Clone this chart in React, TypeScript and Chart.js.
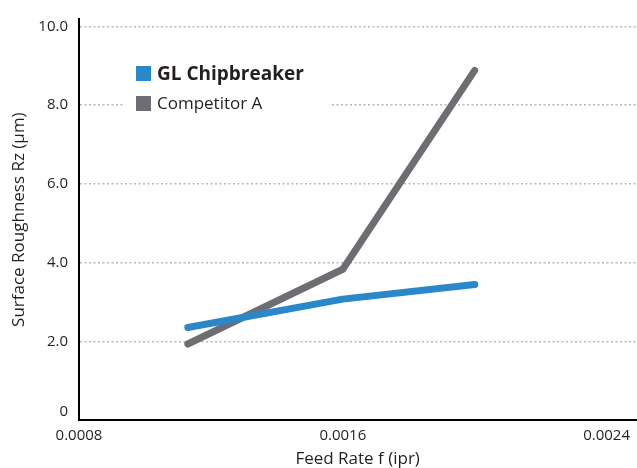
import React, { useEffect, useRef } from "react";
import { Chart, registerables } from "chart.js";

Chart.register(...registerables);

const feedRates = [0.00113, 0.0016, 0.002];
const glChipbreaker = [2.35, 3.07, 3.44];
const competitorA = [1.93, 3.83, 8.88];
const xTicks = [0.0008, 0.0016, 0.0024];
const yTicks = [0, 2, 4, 6, 8, 10];
const seriesNames = ["GL Chipbreaker", "Competitor A"];
const seriesColors = ["#2a87c9", "#6d6e71"];

const FONT = "'Open Sans', 'Noto Sans', sans-serif";

const legendPlugin = {
  id: "insideLegend",
  beforeDatasetsDraw(chart: any) {
    const ctx = chart.ctx;
    ctx.save();
    ctx.fillStyle = "#ffffff";
    ctx.fillRect(124, 55, 208, 66);
    ctx.fillStyle = seriesColors[0];
    ctx.fillRect(136, 66, 15, 15);
    ctx.fillStyle = seriesColors[1];
    ctx.fillRect(136, 96, 15, 15);
    ctx.fillStyle = "#231f20";
    ctx.textBaseline = "alphabetic";
    ctx.textAlign = "left";
    ctx.font = `bold 19px ${FONT}`;
    ctx.fillText(seriesNames[0], 157, 80);
    ctx.font = `17px ${FONT}`;
    ctx.fillText(seriesNames[1], 157, 109);
    ctx.restore();
  },
};

export default function App() {
  const ref = useRef<HTMLCanvasElement>(null);
  useEffect(() => {
    if (!ref.current) return;
    const chart = new Chart(ref.current, {
      type: "line",
      data: {
        datasets: [
          {
            label: seriesNames[0],
            data: feedRates.map((x, i) => ({ x, y: glChipbreaker[i] })),
            borderColor: seriesColors[0],
            backgroundColor: seriesColors[0],
            borderWidth: 7,
            borderCapStyle: "round",
            borderJoinStyle: "round",
            pointRadius: 0,
            tension: 0,
          },
          {
            label: seriesNames[1],
            data: feedRates.map((x, i) => ({ x, y: competitorA[i] })),
            borderColor: seriesColors[1],
            backgroundColor: seriesColors[1],
            borderWidth: 7,
            borderCapStyle: "round",
            borderJoinStyle: "round",
            pointRadius: 0,
            tension: 0,
          },
        ],
      },
      options: {
        animation: false,
        responsive: false,
        devicePixelRatio: 1,
        layout: { padding: { top: 15, right: 0, bottom: 0, left: 0 } },
        plugins: { legend: { display: false }, tooltip: { enabled: false } },
        scales: {
          x: {
            type: "linear",
            min: 0.0008,
            max: 0.00249,
            afterBuildTicks: (scale: any) => {
              scale.ticks = xTicks.map((v) => ({ value: v }));
            },
            afterFit: (scale: any) => {
              scale.height = 48;
            },
            grid: { display: false, drawTicks: false },
            border: { display: true, color: "#000000", width: 2 },
            ticks: {
              padding: 7,
              color: "#231f20",
              font: { family: FONT, size: 15 },
              maxRotation: 0,
              callback: (v: any) => Number(v).toFixed(4),
            },
            title: {
              display: true,
              text: "Feed Rate f (ipr)",
              color: "#231f20",
              font: { family: FONT, size: 17, lineHeight: 1 },
              padding: 0,
            },
          },
          y: {
            type: "linear",
            min: 0,
            max: 10.18,
            afterBuildTicks: (scale: any) => {
              scale.ticks = yTicks.map((v) => ({ value: v }));
            },
            afterFit: (scale: any) => {
              scale.width = 79;
            },
            grid: {
              drawTicks: false,
              color: (c: any) => (c.tick && c.tick.value === 0 ? "rgba(0,0,0,0)" : "#b8b8b8"),
              lineWidth: 1.5,
            },
            border: { display: true, color: "#000000", width: 2, dash: [2, 2.5] },
            ticks: {
              padding: 11,
              color: "#231f20",
              font: { family: FONT, size: 15, lineHeight: 1.1 },
              callback: (v: any) => (Number(v) === 0 ? ["0", ""] : Number(v).toFixed(1)),
            },
            title: {
              display: true,
              text: "Surface Roughness Rz (µm)",
              color: "#231f20",
              font: { family: FONT, size: 17, lineHeight: 1.2 },
              padding: { top: 9, bottom: 0 },
            },
          },
        },
      },
      plugins: [legendPlugin],
    } as any);
    return () => chart.destroy();
  }, []);
  return (
    <div style={{ position: "absolute", left: 0, top: 0, width: 637, height: 468, background: "#fff" }}>
      <canvas ref={ref} width={637} height={468} />
    </div>
  );
}
